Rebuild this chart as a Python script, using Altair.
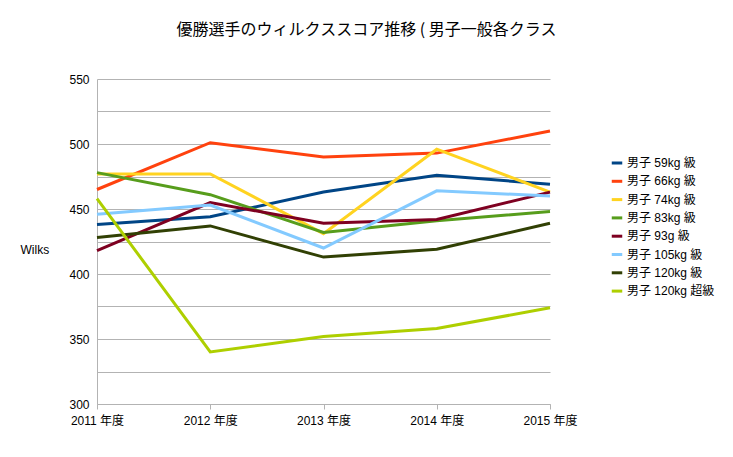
import pandas as pd
import altair as alt

# Values
years = ["2011 年度", "2012 年度", "2013 年度", "2014 年度", "2015 年度"]
classes = ["男子 59kg 級", "男子 66kg 級", "男子 74kg 級", "男子 83kg 級",
           "男子 93g 級", "男子 105kg 級", "男子 120kg 級", "男子 120kg 超級"]
w59 = [438, 444, 463, 476, 469]
w66 = [465, 501, 490, 493, 510]
w74 = [477, 477, 431, 496, 463]
w83 = [478, 461, 432, 441, 448]
w93 = [418, 455, 439, 442, 463]
w105 = [446, 453, 420, 464, 460]
w120 = [428, 437, 413, 419, 439]
w120plus = [458, 340, 352, 358, 374]
colors = ["#004586", "#ff420e", "#ffd320", "#579d1c",
          "#7e0021", "#83caff", "#314004", "#aecf00"]

series = [w59, w66, w74, w83, w93, w105, w120, w120plus]
rows = []
for i, (name, vals) in enumerate(zip(classes, series)):
    for y, v in zip(years, vals):
        rows.append({"year": y, "class": name, "wilks": v, "order": i})
data = pd.DataFrame(rows)

font = "Liberation Sans, Noto Sans CJK JP"

chart = alt.Chart(data).mark_line(strokeWidth=3).encode(
    x=alt.X("year:N", sort=years, title=None,
            scale=alt.Scale(type="point", padding=0),
            axis=alt.Axis(labelAngle=0, tickSize=5, labelPadding=6)),
    y=alt.Y("wilks:Q", title="Wilks",
            scale=alt.Scale(domain=[300, 550], nice=False, zero=False),
            axis=alt.Axis(values=list(range(300, 551, 25)),
                          labelExpr="datum.value % 50 == 0 ? datum.label : ''",
                          tickSize=0, labelPadding=8,
                          titleAngle=0, titleAlign="left", titleBaseline="middle",
                          titleX=-77, titleY=170)),
    color=alt.Color("class:N", sort=classes, title=None,
                    scale=alt.Scale(domain=classes, range=colors),
                    legend=alt.Legend(orient="none", legendX=513, legendY=77,
                                      symbolType="stroke", symbolSize=110,
                                      symbolStrokeWidth=3, rowPadding=5.3,
                                      labelOffset=3)),
    order=alt.Order("order:Q"),
).properties(
    width=453,
    height=325,
    autosize=alt.AutoSizeParams(type="none"),
    padding={"left": 89, "top": 71, "right": 175, "bottom": 45},
    title=alt.Title("優勝選手のウィルクススコア推移 ( 男子一般各クラス",
                    font="Noto Sans CJK JP", fontSize=16, fontWeight="normal",
                    color="black", anchor="middle", dx=43, offset=35),
).configure_axis(
    labelFont=font, labelFontSize=12, labelColor="black",
    titleFont=font, titleFontSize=12, titleColor="black", titleFontWeight="normal",
    gridColor="#b3b3b3", domainColor="#b3b3b3", tickColor="#b3b3b3",
    gridWidth=1, domainWidth=1,
).configure_legend(
    labelFont=font, labelFontSize=12, labelColor="black",
).configure_view(
    stroke=None,
)

chart.save("out.html", embed_options={"renderer": "svg", "actions": False})
